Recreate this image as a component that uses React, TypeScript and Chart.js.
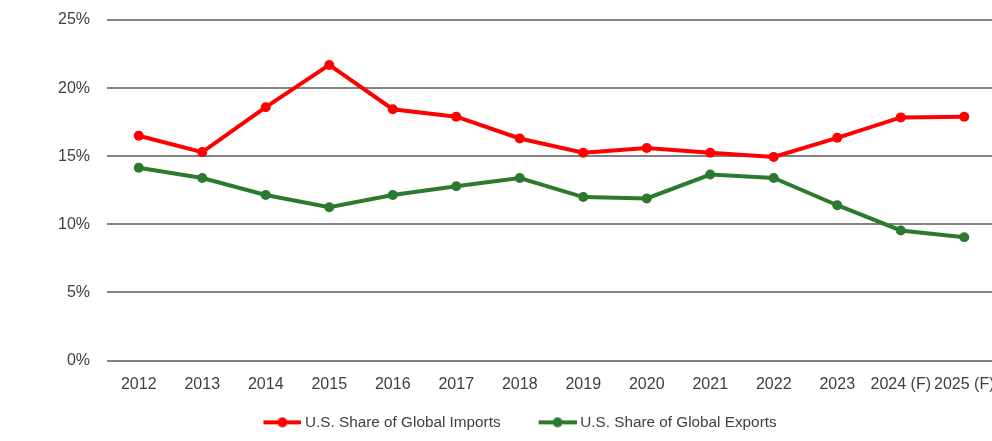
import React, { useEffect, useRef } from "react";
import { Chart, registerables } from "chart.js";

Chart.register(...registerables);

const categories = ["2012", "2013", "2014", "2015", "2016", "2017", "2018", "2019", "2020", "2021", "2022", "2023", "2024 (F)", "2025 (F)"];
const importsShare = [16.5, 15.3, 18.6, 21.7, 18.45, 17.9, 16.3, 15.25, 15.6, 15.25, 14.95, 16.35, 17.85, 17.9];
const exportsShare = [14.15, 13.4, 12.15, 11.25, 12.15, 12.8, 13.4, 12.0, 11.9, 13.65, 13.4, 11.4, 9.55, 9.05];
const seriesNames = ["U.S. Share of Global Imports", "U.S. Share of Global Exports"];
const seriesColors = ["#ff0000", "#2b7a2e"];

const CANVAS_W = 1064;
const CANVAS_H = 441;

// legend marker: transparent gap on the left, then a line with a dot
const ICON_BOX = 62;
const ICON_W = 70;
const ICON_LINE = 38;

function legendIcon(color: string): HTMLCanvasElement {
  const c = document.createElement("canvas");
  c.width = ICON_W;
  c.height = 12;
  const ctx = c.getContext("2d")!;
  const x0 = ICON_W - ICON_LINE;
  ctx.strokeStyle = color;
  ctx.lineWidth = 4;
  ctx.beginPath();
  ctx.moveTo(x0, 6);
  ctx.lineTo(ICON_W, 6);
  ctx.stroke();
  ctx.fillStyle = color;
  ctx.beginPath();
  ctx.arc(x0 + ICON_LINE / 2, 6, 5, 0, Math.PI * 2);
  ctx.fill();
  return c;
}

export default function App() {
  const ref = useRef<HTMLCanvasElement | null>(null);

  useEffect(() => {
    if (!ref.current) return;
    const icons = seriesColors.map(legendIcon);
    const font = "'Liberation Sans', Arial, sans-serif";
    const chart = new Chart(ref.current, {
      type: "line",
      data: {
        labels: categories,
        datasets: [importsShare, exportsShare].map((d, i) => ({
          label: seriesNames[i],
          data: d,
          borderColor: seriesColors[i],
          backgroundColor: seriesColors[i],
          borderWidth: 4,
          pointRadius: 5,
          pointHoverRadius: 5,
          pointBackgroundColor: seriesColors[i],
          pointBorderWidth: 0,
          tension: 0,
        })),
      },
      options: {
        responsive: false,
        animation: false,
        layout: { padding: { left: 16, right: 68, top: 20, bottom: 1 } },
        plugins: {
          tooltip: { enabled: false },
          legend: {
            position: "bottom",
            labels: {
              usePointStyle: true,
              pointStyleWidth: ICON_BOX,
              padding: 10,
              color: "#404040",
              font: { family: font, size: 15.3 },
              generateLabels: (ch: any) =>
                ch.data.datasets.map((ds: any, i: number) => ({
                  text: ds.label,
                  pointStyle: icons[i],
                  fillStyle: seriesColors[i],
                  strokeStyle: seriesColors[i],
                  lineWidth: 0,
                  fontColor: "#404040",
                  datasetIndex: i,
                  hidden: false,
                })),
            },
          },
        },
        scales: {
          x: {
            offset: true,
            grid: { display: false, drawTicks: false, offset: true },
            border: { display: false },
            afterFit: (scale: any) => {
              scale.height -= 3;
            },
            ticks: {
              color: "#404040",
              padding: 14,
              maxRotation: 0,
              autoSkip: false,
              font: { family: font, size: 16 },
            },
          },
          y: {
            min: 0,
            max: 25,
            afterFit: (scale: any) => {
              scale.width = 91;
              scale.paddingTop = 0;
              scale.paddingBottom = 0;
            },
            grid: { color: "#828282", lineWidth: 2, drawTicks: false },
            border: { display: false },
            ticks: {
              stepSize: 5,
              padding: 17,
              color: "#404040",
              font: { family: font, size: 16 },
              callback: (v: any) => v + "%",
            },
          },
        },
      },
    });
    return () => chart.destroy();
  }, []);

  return (
    <div style={{ position: "fixed", left: 0, top: 0, width: 992, height: 441, overflow: "hidden", background: "#fff" }}>
      <div style={{ width: CANVAS_W, height: CANVAS_H }}>
        <canvas ref={ref} width={CANVAS_W} height={CANVAS_H} />
      </div>
    </div>
  );
}
